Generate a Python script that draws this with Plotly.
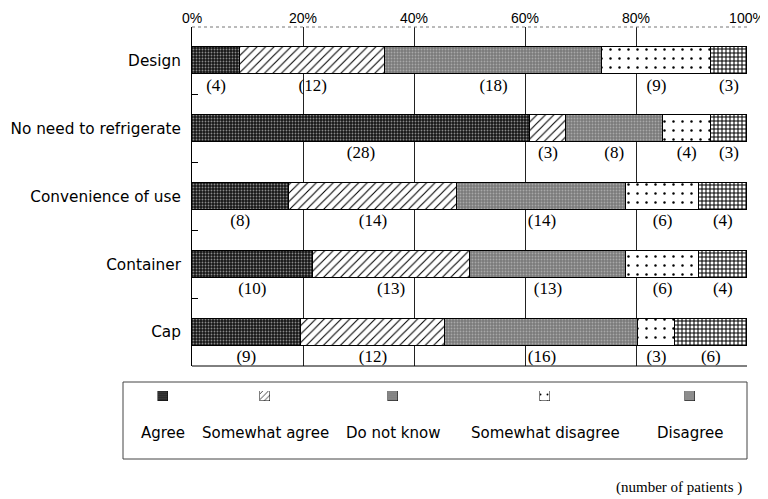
import plotly.graph_objects as go

# ---------------- data ----------------
categories = ["Design", "No need to refrigerate", "Convenience of use", "Container", "Cap"]
series_names = ["Agree", "Somewhat agree", "Do not know", "Somewhat disagree", "Disagree"]
agree = [4, 28, 8, 10, 9]
somewhat_agree = [12, 3, 14, 13, 12]
do_not_know = [18, 8, 14, 13, 16]
somewhat_disagree = [9, 4, 6, 6, 3]
disagree = [3, 3, 4, 4, 6]
x_tick_vals = [0, 20, 40, 60, 80, 100]
x_tick_text = ["0%", "20%", "40%", "60%", "80%", "100%"]
footnote = "(number of patients )"

series_values = [agree, somewhat_agree, do_not_know, somewhat_disagree, disagree]

# ---------------- layout (page pixels; the page body adds an 8px offset) ----------------
OFF = 8
W, H = 768 - OFF, 499 - OFF
PLOT_L, PLOT_R, PLOT_T, PLOT_B = 110, 747, 27, 479   # page px of the plotting area
ML, MR, MT, MB = PLOT_L - OFF, W - (PLOT_R - OFF), PLOT_T - OFF, H - (PLOT_B - OFF)
PW, PH = W - ML - MR, H - MT - MB


def px_x(p):
    return (p - PLOT_L) / PW


def px_y(p):
    return (PLOT_B - p) / PH


patterns = [
    dict(shape=".", fgcolor="#8a8a8a", bgcolor="#161616", size=3, solidity=0.3, fillmode="replace"),
    dict(shape="/", fgcolor="#000000", bgcolor="#ffffff", size=6, solidity=0.18, fillmode="replace"),
    dict(shape=".", fgcolor="#a8a8a8", bgcolor="#7a7a7a", size=3, solidity=0.3, fillmode="replace"),
    dict(shape=".", fgcolor="#000000", bgcolor="#ffffff", size=9, solidity=0.06, fillmode="replace"),
    dict(shape="+", fgcolor="#000000", bgcolor="#ffffff", size=4, solidity=0.45, fillmode="replace"),
]

serif = "Liberation Serif, DejaVu Serif, serif"
sans = "DejaVu Sans, Liberation Sans, sans-serif"

totals = [sum(v[i] for v in series_values) for i in range(len(categories))]
y_idx = list(range(len(categories)))

fig = go.Figure()

# stacked 100% bars
for name, vals, pat in zip(series_names, series_values, patterns):
    pct = [v / t * 100 for v, t in zip(vals, totals)]
    fig.add_trace(go.Bar(
        x=pct, y=y_idx, orientation="h", name=name, width=0.4,
        marker=dict(color=pat["bgcolor"], pattern=pat, line=dict(color="#000000", width=1)),
        showlegend=False, hoverinfo="x+name",
    ))

# count labels under segments
lx, ly, lt = [], [], []
for i in y_idx:
    cum = 0
    for vals in series_values:
        v = vals[i]
        lx.append((cum + v / 2) / totals[i] * 100)
        ly.append(i + 0.375)
        lt.append(f"({v})")
        cum += v
fig.add_trace(go.Scatter(
    x=lx, y=ly, text=lt, mode="text", showlegend=False,
    textfont=dict(family=serif, size=17, color="#000000"), hoverinfo="skip",
))

# legend swatches drawn as tiny bars on a separate axis (page px positions)
legend_px = [163, 265, 393, 545, 690]
for name, pat, xp in zip(series_names, patterns, legend_px):
    fig.add_trace(go.Bar(
        x=[xp], y=[1], width=10, xaxis="x2", yaxis="y2", showlegend=False,
        marker=dict(color=pat["bgcolor"], pattern=dict(pat, size=max(2, pat["size"] - 2)),
                    line=dict(color="#000000", width=0.5)),
        hoverinfo="skip",
    ))

main_y0 = px_y(366)
fig.update_layout(
    width=W, height=H,
    margin=dict(l=ML, r=MR, t=MT, b=MB, autoexpand=False),
    paper_bgcolor="white", plot_bgcolor="white",
    barmode="stack", bargap=0,
    xaxis=dict(
        domain=[px_x(192), 1], range=[0, 100], side="top",
        tickvals=x_tick_vals, ticktext=x_tick_text,
        tickfont=dict(family="Liberation Sans, Arial, sans-serif", size=14, color="#000000"),
        showgrid=True, gridcolor="#222222", gridwidth=1,
        zeroline=False, showline=False, ticks="", automargin=False,
        fixedrange=True,
    ),
    yaxis=dict(
        domain=[main_y0, 1], range=[4.5, -0.5],
        tickvals=y_idx, ticktext=categories,
        tickfont=dict(family=sans, size=15.3, color="#000000"),
        showgrid=False, zeroline=False, showline=True, linecolor="#000000", linewidth=1,
        ticks="", ticklabelstandoff=7, automargin=False,
        minor=dict(tickvals=[0.5, 1.5, 2.5, 3.5], ticks="inside", ticklen=6,
                   tickcolor="#000000", tickwidth=1, showgrid=False),
    ),
    xaxis2=dict(domain=[0, 1], range=[PLOT_L, PLOT_R], anchor="y2", visible=False),
    yaxis2=dict(domain=[px_y(401), px_y(391)], range=[0, 1], anchor="x2", visible=False),
    font=dict(family=sans, color="#000000"),
)

# frame lines
fig.add_shape(type="line", xref="paper", yref="paper", x0=px_x(192), x1=1, y0=1, y1=1,
              line=dict(color="#777777", width=1, dash="dot"))
fig.add_shape(type="line", xref="paper", yref="paper", x0=px_x(192), x1=1, y0=main_y0, y1=main_y0,
              line=dict(color="#000000", width=1))
# legend box
fig.add_shape(type="rect", xref="paper", yref="paper", x0=px_x(123), x1=px_x(747), y0=px_y(459), y1=px_y(382),
              line=dict(color="#444444", width=1), fillcolor="rgba(0,0,0,0)")

for name, xp in zip(series_names, legend_px):
    fig.add_annotation(x=px_x(xp), y=px_y(433), xref="paper", yref="paper", text=name,
                       showarrow=False, font=dict(family=sans, size=15, color="#000000"),
                       xanchor="center", yanchor="middle")

fig.add_annotation(x=px_x(744), y=px_y(487), xref="paper", yref="paper", text=footnote,
                   showarrow=False, font=dict(family=serif, size=15, color="#000000"),
                   xanchor="right", yanchor="middle")

fig.write_html("out.html")
